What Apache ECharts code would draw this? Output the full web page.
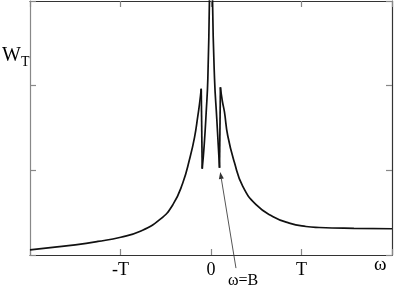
<!DOCTYPE html>
<html>
<head>
<meta charset="utf-8">
<script src="https://cdn.jsdelivr.net/npm/echarts@6/dist/echarts.min.js"></script>
<style>
html,body{margin:0;padding:0;background:#fff;}
#c{width:395px;height:290px;}
</style>
</head>
<body>
<div id="c"></div>
<script>
// omega (in units of T) and W_T values, in branches
const leftOuterW = [-2.0, -1.75, -1.5, -1.25, -0.997, -0.788, -0.567, -0.421, -0.311, -0.237, -0.182, -0.145, -0.125, -0.108];
const leftOuterV = [0.06, 0.09, 0.12, 0.16, 0.21, 0.277, 0.417, 0.595, 0.854, 1.131, 1.389, 1.646, 1.8, 1.964];
const leftInnerW = [-0.097, -0.075, -0.053, -0.035, -0.017, -0.008];
const leftInnerV = [1.02, 1.3, 1.687, 2.08, 3.04, 4.5];
const rightInnerW = [0.008, 0.017, 0.039, 0.064, 0.08, 0.094];
const rightInnerV = [4.5, 3.0, 2.08, 1.607, 1.3, 1.03];
const rightOuterW = [0.104, 0.125, 0.149, 0.185, 0.259, 0.35, 0.498, 0.681, 0.865, 1.049, 1.196, 1.58, 2.0];
const rightOuterV = [1.98, 1.82, 1.687, 1.408, 1.092, 0.813, 0.595, 0.456, 0.377, 0.337, 0.325, 0.315, 0.31];
const xTickLabels = {'-1': '-T', '0': '0', '1': 'T'};
const arrowFrom = [0.276, -0.155];
const arrowTo = [0.102, 0.98];

const pairs = (xs, ys) => xs.map((x, i) => [x, ys[i]]);
const lw = leftOuterW.length - 1, ro = 0;
const branches = [
  pairs(leftOuterW, leftOuterV),
  [[leftOuterW[lw], leftOuterV[lw]], [leftInnerW[0], leftInnerV[0]]],
  pairs(leftInnerW, leftInnerV),
  pairs(rightInnerW, rightInnerV),
  [[rightInnerW[rightInnerW.length - 1], rightInnerV[rightInnerV.length - 1]], [rightOuterW[ro], rightOuterV[ro]]],
  pairs(rightOuterW, rightOuterV)
];

const chart = echarts.init(document.getElementById('c'), null, {renderer: 'canvas'});
const serif = '"Liberation Serif", "DejaVu Serif", serif';
const axisLine = {show: true, onZero: false, lineStyle: {color: '#333', width: 1.2}};
const tick = {show: true, inside: true, length: 6, lineStyle: {color: '#888', width: 1.2}};
chart.setOption({
  animation: false,
  grid: {left: 30, right: 2, top: 1, bottom: 35},
  xAxis: [{
    type: 'value', min: -2, max: 2, interval: 1, position: 'bottom',
    axisLine: axisLine, axisTick: tick, splitLine: {show: false},
    axisLabel: {margin: 6, fontFamily: serif, fontSize: 18, color: '#000',
      formatter: v => xTickLabels[String(v)] || ''}
  }, {
    type: 'value', min: -2, max: 2, interval: 1, position: 'top',
    axisLine: axisLine, axisTick: tick, splitLine: {show: false}, axisLabel: {show: false}
  }],
  yAxis: [{
    type: 'value', min: 0, max: 3, interval: 1, position: 'left',
    axisLine: {show: true, onZero: false, lineStyle: {color: '#888', width: 1.2}}, axisTick: tick,
    splitLine: {show: false}, axisLabel: {show: false}
  }, {
    type: 'value', min: 0, max: 3, interval: 1, position: 'right',
    axisLine: axisLine, axisTick: tick, splitLine: {show: false}, axisLabel: {show: false}
  }],
  series: branches.map(d => ({
    type: 'line', xAxisIndex: 0, yAxisIndex: 0,
    data: d, showSymbol: false, clip: true,
    smooth: d.length > 2 ? 0.5 : false,
    lineStyle: {color: '#111', width: 1.7}
  }))
});

const p0 = chart.convertToPixel({xAxisIndex: 0, yAxisIndex: 0}, arrowFrom);
const p1 = chart.convertToPixel({xAxisIndex: 0, yAxisIndex: 0}, arrowTo);
const ang = Math.atan2(p1[1] - p0[1], p1[0] - p0[0]);
const hl = 7, hw = 2.5;
const bx = p1[0] - hl * Math.cos(ang), by = p1[1] - hl * Math.sin(ang);
const nx = -Math.sin(ang) * hw, ny = Math.cos(ang) * hw;

chart.setOption({
  graphic: [
    {type: 'line', shape: {x1: p0[0], y1: p0[1], x2: bx, y2: by}, style: {stroke: '#555', lineWidth: 1}},
    {type: 'polygon', shape: {points: [[p1[0], p1[1]], [bx + nx, by + ny], [bx - nx, by - ny]]}, style: {fill: '#333'}},
    {type: 'text', left: 2, top: 46, style: {text: 'W', font: '20px ' + serif, fill: '#000'}},
    {type: 'text', left: 21, top: 55, style: {text: 'T', font: '14px ' + serif, fill: '#000'}},
    {type: 'text', left: 228, top: 273, style: {text: 'ω=B', font: '16px ' + serif, fill: '#000'}},
    {type: 'text', left: 374, top: 256, style: {text: 'ω', font: '19px ' + serif, fill: '#000'}}
  ]
});
</script>
</body>
</html>
